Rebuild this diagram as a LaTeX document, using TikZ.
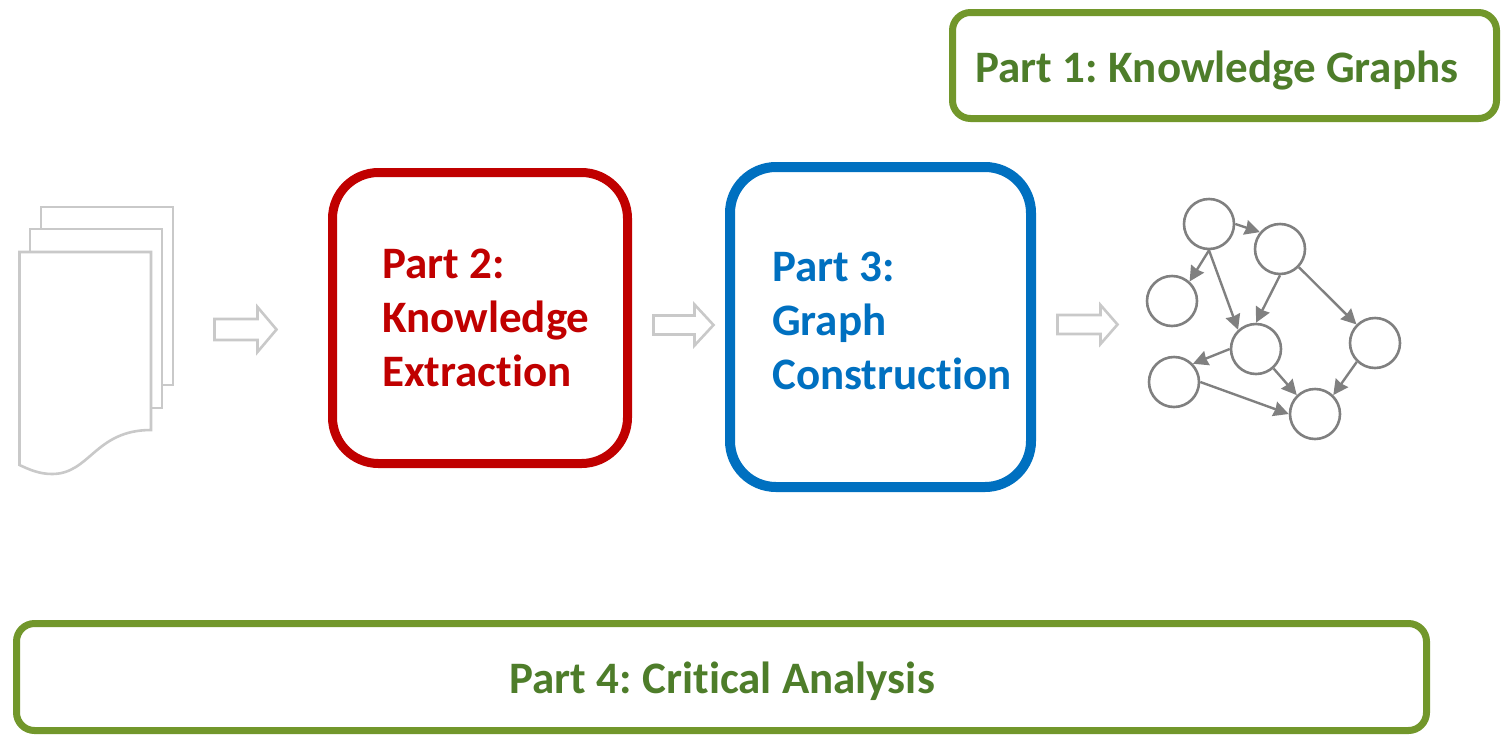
\documentclass[tikz,border=0pt]{standalone}
\usepackage{fontspec}
\setmainfont[Ligatures=NoCommon]{Carlito}
\usetikzlibrary{arrows.meta}
\definecolor{pgreen}{HTML}{4E7D2A}
\definecolor{bgreen}{HTML}{72972B}
\definecolor{pred}{HTML}{C00000}
\definecolor{pblue}{HTML}{0070C0}
\definecolor{lgray}{HTML}{C9C9C9}
\definecolor{ngray}{HTML}{808080}
\newcommand{\cgap}{\kern1pt\ }
\tikzset{x=1pt,y=-1pt,
 partbox/.style={draw,fill=white,rounded corners=#1},
 lab/.style={font=\fontsize{45}{54}\selectfont\bfseries,align=left,inner sep=0pt},
 paper/.style={draw=lgray,line width=2.6pt,fill=white,line join=miter},
 flow/.style={draw=lgray,line width=2.6pt,fill=white},
 gn/.style={circle,draw=ngray,line width=2.6pt,fill=white,minimum size=50pt,inner sep=0pt},
 ge/.style={draw=ngray,line width=2.4pt,-{Stealth[length=15pt,width=15pt,inset=1pt]}}}
\begin{document}
\begin{tikzpicture}
\useasboundingbox (0,0) rectangle (1512,742);
% boxes
\node[partbox=18pt,draw=bgreen,line width=7pt,minimum width=544pt,minimum height=106pt] (p1) at (1224.5,65.5) {};
\node[lab,text=pgreen,anchor=west] (t1) at (975,71) {Part 1:\cgap Knowledge Graphs};
\node[partbox=46pt,draw=pred,line width=9pt,minimum width=295pt,minimum height=291pt] (p2) at (480,318) {};
\node[lab,text=pred,anchor=west] (t2) at (382,318) {Part 2:\\Knowledge\\Extraction};
\node[partbox=46pt,draw=pblue,line width=10pt,minimum width=301pt,minimum height=320pt] (p3) at (880.5,327) {};
\node[lab,text=pblue,anchor=west] (t3) at (772,321) {Part 3:\\Graph\\Construction};
\node[partbox=18pt,draw=bgreen,line width=7pt,minimum width=1410pt,minimum height=107pt] (p4) at (721.5,677) {};
\node[lab,text=pgreen] (t4) at (722,681) {Part 4:\cgap Critical Analysis};
% papers
\draw[paper] (41,207) rectangle (173,385);
\draw[paper] (30,229) rectangle (162,408);
\draw[paper] (19.5,252) -- (151,252) -- (151,430) .. controls (95,430) and (90,474) .. (52,474) .. controls (40,474) and (30,470) .. (19.5,465) -- cycle;
% flow arrows
\foreach \x/\y/\l/\h/\hh/\bh in {214.5/329.5/62/43/22.5/10.5,653.5/325/60/41/20.5/9.5,1057.5/324.5/60/43/19.5/9.5}{
 \draw[flow] (\x,\y-\bh) -- (\x+\h,\y-\bh) -- (\x+\h,\y-\hh) -- (\x+\l,\y) -- (\x+\h,\y+\hh) -- (\x+\h,\y+\bh) -- (\x,\y+\bh) -- cycle;
}
% graph
\node[gn] (A) at (1209,224) {};
\node[gn] (B) at (1280,249) {};
\node[gn] (C) at (1172,301) {};
\node[gn] (D) at (1256,349) {};
\node[gn] (E) at (1375,343) {};
\node[gn] (F) at (1174,382) {};
\node[gn] (G) at (1315,414) {};
\draw[ge] (A.east) -- (B.140);
\draw[ge] (A.south) -- (C.48);
\draw[ge] (A.south) -- (D.133);
\draw[ge] (B.south) -- (D.90);
\draw[ge] (B.-44) -- (E.135);
\draw[ge] (D.180) -- (F.44);
\draw[ge] (D.-48) -- (G.134);
\draw[ge] (E.226) -- (G.46);
\draw[ge] (F.east) -- (G.180);
\end{tikzpicture}
\end{document}
